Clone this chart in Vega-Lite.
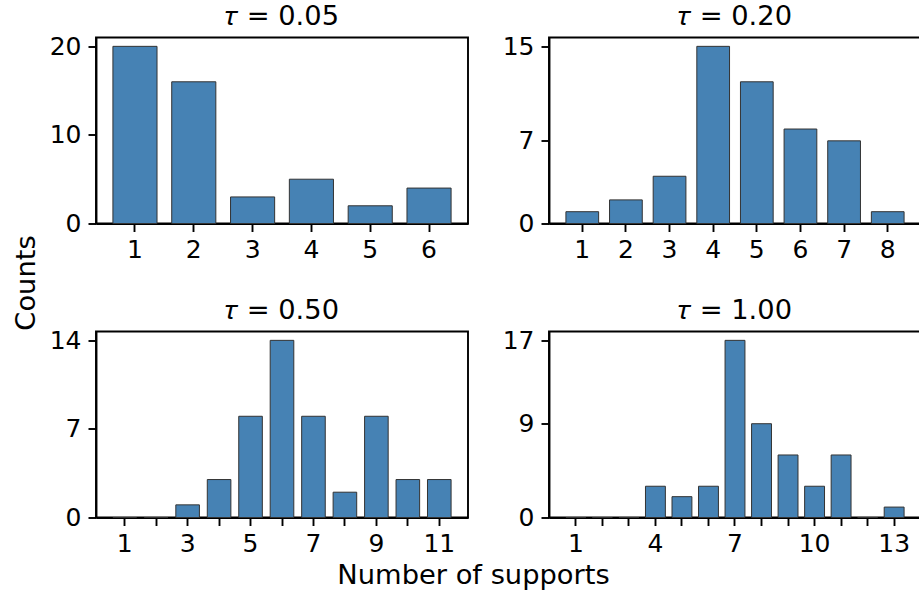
{
  "$schema": "https://vega.github.io/schema/vega-lite/v6.json",
  "padding": {"left": 11, "top": 1.5, "right": 0, "bottom": 0},
  "background": "white",
  "datasets": {
    "supports": [
      {"tau": "0.05", "supports": 1, "count": 20},
      {"tau": "0.05", "supports": 2, "count": 16},
      {"tau": "0.05", "supports": 3, "count": 3},
      {"tau": "0.05", "supports": 4, "count": 5},
      {"tau": "0.05", "supports": 5, "count": 2},
      {"tau": "0.05", "supports": 6, "count": 4},
      {"tau": "0.20", "supports": 1, "count": 1},
      {"tau": "0.20", "supports": 2, "count": 2},
      {"tau": "0.20", "supports": 3, "count": 4},
      {"tau": "0.20", "supports": 4, "count": 15},
      {"tau": "0.20", "supports": 5, "count": 12},
      {"tau": "0.20", "supports": 6, "count": 8},
      {"tau": "0.20", "supports": 7, "count": 7},
      {"tau": "0.20", "supports": 8, "count": 1},
      {"tau": "0.50", "supports": 1, "count": 0},
      {"tau": "0.50", "supports": 2, "count": 0},
      {"tau": "0.50", "supports": 3, "count": 1},
      {"tau": "0.50", "supports": 4, "count": 3},
      {"tau": "0.50", "supports": 5, "count": 8},
      {"tau": "0.50", "supports": 6, "count": 14},
      {"tau": "0.50", "supports": 7, "count": 8},
      {"tau": "0.50", "supports": 8, "count": 2},
      {"tau": "0.50", "supports": 9, "count": 8},
      {"tau": "0.50", "supports": 10, "count": 3},
      {"tau": "0.50", "supports": 11, "count": 3},
      {"tau": "1.00", "supports": 1, "count": 0},
      {"tau": "1.00", "supports": 2, "count": 0},
      {"tau": "1.00", "supports": 3, "count": 0},
      {"tau": "1.00", "supports": 4, "count": 3},
      {"tau": "1.00", "supports": 5, "count": 2},
      {"tau": "1.00", "supports": 6, "count": 3},
      {"tau": "1.00", "supports": 7, "count": 17},
      {"tau": "1.00", "supports": 8, "count": 9},
      {"tau": "1.00", "supports": 9, "count": 6},
      {"tau": "1.00", "supports": 10, "count": 3},
      {"tau": "1.00", "supports": 11, "count": 6},
      {"tau": "1.00", "supports": 12, "count": 0},
      {"tau": "1.00", "supports": 13, "count": 1}
    ]
  },
  "data": {"name": "supports"},
  "columns": 2,
  "spacing": {"row": 108, "column": 81},
  "bounds": "flush",
  "concat": [
    {
      "title": "𝜏 = 0.05",
      "width": 372,
      "height": 186,
      "transform": [{"filter": "datum.tau == '0.05'"}],
      "mark": {"type": "bar", "color": "#4682b4", "stroke": "#333333", "strokeWidth": 1},
      "encoding": {
        "x": {"field": "supports", "type": "ordinal",
              "scale": {"domain": [1, 2, 3, 4, 5, 6], "paddingInner": 0.25, "paddingOuter": 0.2875, "round": false},
              "axis": {"title": null}},
        "y": {"field": "count", "type": "quantitative",
              "scale": {"domain": [0, 21], "nice": false},
              "axis": {"values": [0, 10, 20], "title": "Counts", "titleAngle": 270, "titleX": -62, "titleY": 245, "titleAlign": "center", "titleBaseline": "alphabetic"}}
      }
    },
    {
      "title": "𝜏 = 0.20",
      "width": 372,
      "height": 186,
      "transform": [{"filter": "datum.tau == '0.20'"}],
      "mark": {"type": "bar", "color": "#4682b4", "stroke": "#333333", "strokeWidth": 1},
      "encoding": {
        "x": {"field": "supports", "type": "ordinal",
              "scale": {"domain": [1, 2, 3, 4, 5, 6, 7, 8], "paddingInner": 0.25, "paddingOuter": 0.3875, "round": false},
              "axis": {"title": null}},
        "y": {"field": "count", "type": "quantitative",
              "scale": {"domain": [0, 15.75], "nice": false},
              "axis": {"values": [0, 7, 15], "title": null}}
      }
    },
    {
      "title": "𝜏 = 0.50",
      "width": 372,
      "height": 186,
      "transform": [{"filter": "datum.tau == '0.50'"}],
      "mark": {"type": "bar", "color": "#4682b4", "stroke": "#333333", "strokeWidth": 1},
      "encoding": {
        "x": {"field": "supports", "type": "ordinal",
              "scale": {"domain": [1, 2, 3, 4, 5, 6, 7, 8, 9, 10, 11], "paddingInner": 0.25, "paddingOuter": 0.5375, "round": false},
              "axis": {"title": "Number of supports", "titleX": 377, "titleY": 66, "titleAlign": "center", "titleBaseline": "alphabetic",
                       "labelExpr": "datum.value % 2 == 1 ? datum.label : ''"}},
        "y": {"field": "count", "type": "quantitative",
              "scale": {"domain": [0, 14.7], "nice": false},
              "axis": {"values": [0, 7, 14], "title": null}}
      }
    },
    {
      "title": "𝜏 = 1.00",
      "width": 372,
      "height": 186,
      "transform": [{"filter": "datum.tau == '1.00'"}],
      "mark": {"type": "bar", "color": "#4682b4", "stroke": "#333333", "strokeWidth": 1},
      "encoding": {
        "x": {"field": "supports", "type": "ordinal",
              "scale": {"domain": [1, 2, 3, 4, 5, 6, 7, 8, 9, 10, 11, 12, 13], "paddingInner": 0.25, "paddingOuter": 0.6375, "round": false},
              "axis": {"title": null, "labelExpr": "(datum.value - 1) % 3 == 0 ? datum.label : ''"}},
        "y": {"field": "count", "type": "quantitative",
              "scale": {"domain": [0, 17.85], "nice": false},
              "axis": {"values": [0, 9, 17], "title": null}}
      }
    }
  ],
  "config": {
    "font": "DejaVu Sans",
    "view": {"stroke": "black", "strokeWidth": 1.9},
    "axis": {
      "domainColor": "black", "domainWidth": 1.9,
      "tickColor": "black", "tickWidth": 1.9, "tickSize": 8,
      "labelFont": "DejaVu Sans", "labelFontSize": 25, "labelColor": "black",
      "labelOverlap": false, "labelFlush": false, "labelBound": false,
      "titleFont": "DejaVu Sans", "titleFontSize": 27.3, "titleFontWeight": "normal", "titleColor": "black",
      "grid": false, "zindex": 1
    },
    "axisX": {"labelAngle": 0, "labelPadding": 6},
    "axisY": {"labelPadding": 7},
    "title": {"font": "DejaVu Sans", "fontSize": 27.3, "fontWeight": "normal", "color": "black", "offset": 0, "baseline": "bottom", "anchor": "middle"}
  }
}
